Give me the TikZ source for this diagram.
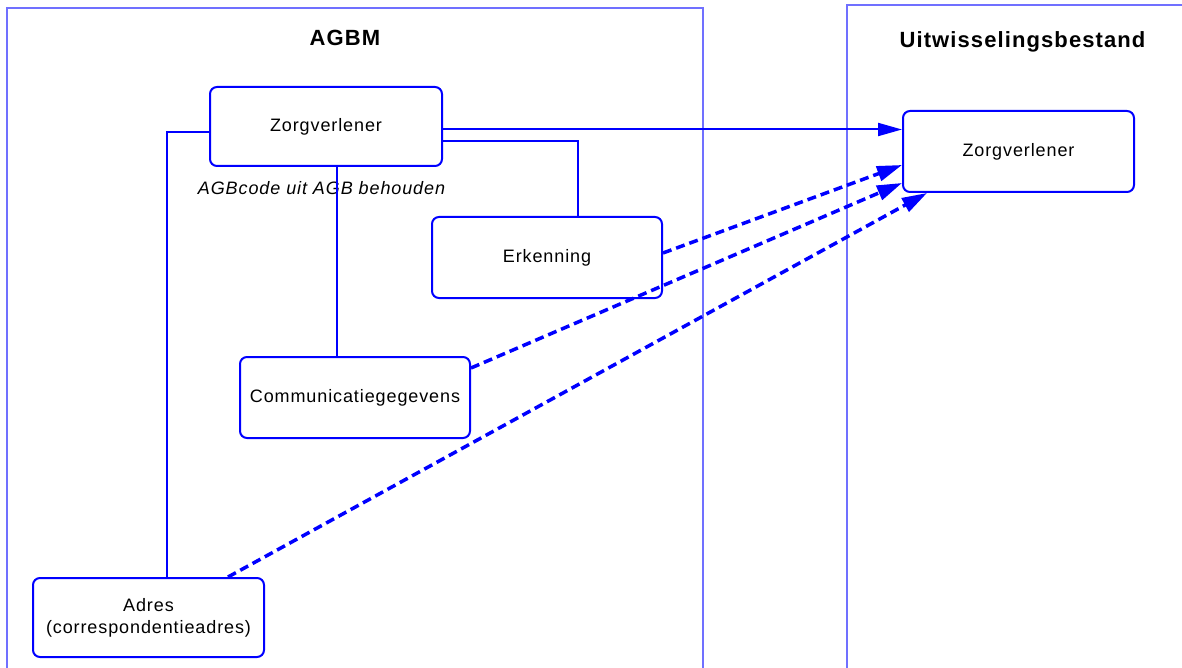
\documentclass[tikz,border=0pt]{standalone}
\usepackage{fontspec}
\setmainfont{Liberation Sans}[LetterSpace=5]
\usepackage{tikz}
\usetikzlibrary{arrows.meta,positioning}
\definecolor{entblue}{HTML}{0000FF}
\definecolor{frameblue}{HTML}{7070FF}

\begin{document}
\begin{tikzpicture}[x=1pt,y=-1pt,
  entity/.style={draw=entblue,line width=2pt,rounded corners=7pt,fill=white,align=center,
    font=\fontsize{18}{22}\selectfont},
  link/.style={entblue,line width=2pt},
  maplink/.style={entblue,line width=3.5pt,dash pattern=on 9pt off 5pt,
    -{Triangle[length=25pt,width=15pt]}},
  frame/.style={frameblue,line width=1.2pt},
  title/.style={font=\fontsize{22}{26}\selectfont\bfseries}]
  \useasboundingbox (0,0) rectangle (1182,668);
  \draw[frame] (7,668) -- (7,8) -- (703,8) -- (703,668);
  \draw[frame] (847,668) -- (847,5) -- (1182,5);

  \node[title] (agbm) at (345,38) {AGBM};
  \node[title] (uitw) at (1022.5,42) {Uitwisselingsbestand};

  \node[entity,minimum width=232pt,minimum height=79pt] (zorgA) at (326,126.5) {Zorgverlener};
  \node[entity,minimum width=230pt,minimum height=81pt] (erkenning) at (547,257.5) {Erkenning};
  \node[entity,minimum width=230pt,minimum height=81pt] (comm) at (355,397.5) {Communicatiegegevens};
  \node[entity,minimum width=231pt,minimum height=79pt] (adres) at (148.5,617.5) {Adres\\(correspondentieadres)};
  \node[entity,minimum width=231pt,minimum height=81pt] (zorgB) at (1018.5,151.5) {Zorgverlener};

  \node[font=\fontsize{18}{22}\selectfont\itshape] (agbcode) at (321.5,188) {AGBcode uit AGB behouden};

  \draw[link] ([yshift=-5.5pt]zorgA.west) -| ([xshift=18.5pt]adres.north);
  \draw[link] ([xshift=11pt]zorgA.south) -- ([xshift=11pt]zorgA.south |- comm.north);
  \draw[link] ([yshift=-15pt]zorgA.east) -| ([xshift=31pt]erkenning.north);
  \draw[link,-{Triangle[length=24pt,width=13pt]}] ([yshift=-3pt]zorgA.east) -- ([yshift=-3pt]zorgA.east -| zorgB.west);

  \draw[maplink] ([yshift=4.5pt]erkenning.east) -- ([yshift=-13.5pt]zorgB.west);
  \draw[maplink] ([yshift=29.5pt]comm.east) -- ([yshift=-31.5pt]zorgB.west);
  \draw[maplink] ([xshift=79.5pt]adres.north) -- ([xshift=25pt]zorgB.south west);
\end{tikzpicture}
\end{document}
